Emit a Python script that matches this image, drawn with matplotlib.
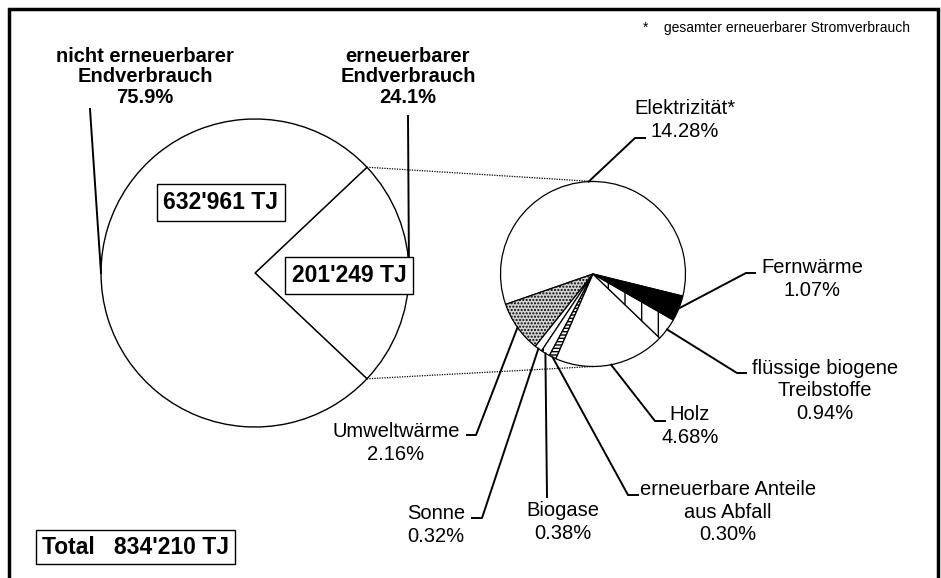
import numpy as np
import matplotlib.pyplot as plt

plt.rcParams['font.family'] = ['Liberation Sans', 'DejaVu Sans']

########################################################################
# Data

main_labels = ["erneuerbarer\nEndverbrauch", "nicht erneuerbarer\nEndverbrauch"]
main_pct = [24.1, 75.9]
main_tj = ["201'249 TJ", "632'961 TJ"]
total_tj = "834'210 TJ"

ren_labels = ["Elektrizität*", "Umweltwärme", "Sonne", "Biogase",
              "erneuerbare Anteile\naus Abfall", "Holz",
              "flüssige biogene\nTreibstoffe", "Fernwärme"]
ren_pct = [14.28, 2.16, 0.32, 0.38, 0.30, 4.68, 0.94, 1.07]

footnote = "*    gesamter erneuerbarer Stromverbrauch"

########################################################################
# Styles and layout (pixel coordinates, measured from the top)

ren_fill = ["white", "#d4d4d4", "white", "white", "white", "white", "white", "black"]
ren_hatch = [None, ".....", None, ".", "-----", None, "|", None]

leader_elbow = [(635, 138), (476, 435), (482, 518), (547, 497),
                (628, 495), (655, 421), (737, 373), (746, 273)]
leader_end = [(645, 138), (467, 435), (472, 518), (547, 497),
              (638, 495), (665, 421), (746, 373), (755, 273)]
label_pos = [(685, 120), (396, 443), (436, 525), (563, 522),
             (728, 512), (690, 426), (825, 391), (812, 279)]

W, H = 941, 578


def Y(y):
    return H - y


fig = plt.figure(figsize=(W / 100, H / 100), dpi=100)
ax = fig.add_axes([0, 0, 1, 1])

########################################################################
# Main pie

big_c = (255, Y(273))
big_r = 154
big_start = -main_pct[0] / 100 * 360 / 2
big_w, _ = ax.pie(main_pct, center=big_c, radius=big_r, startangle=big_start,
                  colors=["white", "white"],
                  wedgeprops=dict(edgecolor="black", linewidth=1))

########################################################################
# Renewable breakdown pie

small_c = (593, Y(274))
small_r = 92.5
small_start = 199.2 - ren_pct[0] / sum(ren_pct) * 360
small_w, _ = ax.pie(ren_pct, center=small_c, radius=small_r, startangle=small_start,
                    colors=ren_fill, hatch=ren_hatch,
                    wedgeprops=dict(edgecolor="black", linewidth=0.9))

ax.set_xlim(0, W)
ax.set_ylim(0, H)
ax.set_aspect("equal")
ax.axis("off")


def edge_point(c, r, ang):
    a = np.deg2rad(ang)
    return c[0] + r * np.cos(a), c[1] + r * np.sin(a)


# dotted connector lines between the two pies
for ang, sy in [(big_w[0].theta2, 1), (big_w[0].theta1, -1)]:
    x0, y0 = edge_point(big_c, big_r, ang)
    ax.plot([x0, small_c[0]], [y0, small_c[1] + sy * small_r],
            color="black", lw=0.9, linestyle=(0, (1, 1)))

# leaders + labels of the small pie
for w, lab, pct, el, en, pos in zip(small_w, ren_labels, ren_pct,
                                    leader_elbow, leader_end, label_pos):
    x0, y0 = edge_point(small_c, small_r, (w.theta1 + w.theta2) / 2)
    ax.plot([x0, el[0], en[0]], [y0, Y(el[1]), Y(en[1])], color="black", lw=1.4)
    ax.text(pos[0], Y(pos[1]), f"{lab}\n{pct:.2f}%", ha="center", va="center",
            fontsize=14.5, linespacing=1.25)

# leaders + labels of the main pie
big_text = [(408, 77), (145, 77)]
big_leader = [(408, 116), (90, 109)]
for w, lab, pct, tp, lp in zip(big_w, main_labels, main_pct, big_text, big_leader):
    x0, y0 = edge_point(big_c, big_r, (w.theta1 + w.theta2) / 2)
    ax.plot([x0, lp[0]], [y0, Y(lp[1])], color="black", lw=1.4)
    ax.text(tp[0], Y(tp[1]), f"{lab}\n{pct:.1f}%", ha="center", va="center",
            fontsize=14.5, fontweight="bold", linespacing=1.1)

box = dict(boxstyle="square,pad=0.3", facecolor="white", edgecolor="black", lw=1)
for txt, pos in zip(main_tj, [(349, 275.5), (221, 202.5)]):
    ax.text(pos[0], Y(pos[1]), txt, ha="center", va="center", fontsize=16.5,
            fontweight="bold", bbox=box, zorder=5)

ax.text(135.5, Y(547), f"Total   {total_tj}", ha="center", va="center", fontsize=16.5,
        fontweight="bold", bbox=dict(boxstyle="square,pad=0.25", facecolor="white",
                                     edgecolor="black", lw=1), zorder=5)

ax.text(910, Y(28), footnote, ha="right", va="center", fontsize=10)

# frame
ax.plot([9, 9, 938, 938], [Y(585), Y(9), Y(9), Y(585)], color="black", lw=2.5,
        solid_joinstyle="miter", clip_on=False)

fig.savefig("out.png", dpi=100)
